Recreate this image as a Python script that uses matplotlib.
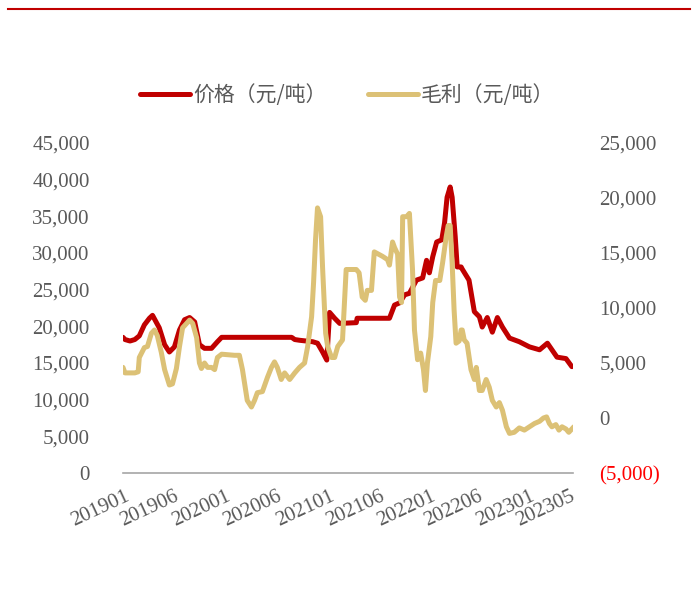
import pandas as pd
import matplotlib
matplotlib.use('Agg')
import matplotlib.pyplot as plt
import matplotlib.dates as mdates
from matplotlib.lines import Line2D
from matplotlib.ticker import FuncFormatter, MultipleLocator

plt.rcParams['font.family'] = ['Liberation Serif', 'Noto Sans CJK SC', 'DejaVu Sans']

# 价格（元/吨），左轴
price_dates = [
    '2019-01-04', '2019-01-11', '2019-01-29', '2019-02-15', '2019-03-03', '2019-03-21',
    '2019-04-08', '2019-04-19', '2019-05-13', '2019-06-01', '2019-06-18', '2019-07-06',
    '2019-07-24', '2019-08-11', '2019-08-29', '2019-09-16', '2019-10-03', '2019-10-21',
    '2019-11-15', '2019-12-06', '2019-12-21', '2020-08-26', '2020-09-06', '2020-09-23',
    '2020-11-09', '2020-11-26', '2020-12-14', '2020-12-29', '2021-01-08', '2021-01-26',
    '2021-02-13', '2021-04-13', '2021-04-16', '2021-08-09', '2021-08-16', '2021-08-27',
    '2021-09-14', '2021-10-02', '2021-10-19', '2021-11-13', '2021-12-05', '2021-12-19',
    '2021-12-29', '2022-01-10', '2022-01-24', '2022-02-11', '2022-02-21', '2022-03-02',
    '2022-03-13', '2022-03-20', '2022-03-31', '2022-04-07', '2022-04-21', '2022-04-25',
    '2022-05-19', '2022-06-07', '2022-06-25', '2022-07-05', '2022-07-23', '2022-08-10',
    '2022-08-28', '2022-09-15', '2022-10-10', '2022-11-14', '2022-12-20', '2023-01-25',
    '2023-02-22', '2023-03-28', '2023-04-29', '2023-05-20',
]
price = [
    18500, 18200, 18000, 18200, 18700, 20200,
    21100, 21500, 19800, 17500, 16500, 17200,
    19500, 20900, 21200, 20600, 17500, 17000,
    17000, 17900, 18500, 18500, 18200, 18100,
    17900, 17700, 16500, 15400, 21900, 21100,
    20400, 20500, 21100, 21100, 21800, 22900,
    23200, 24300, 24500, 26300, 26600, 29000,
    27300, 29500, 31500, 31800, 34100, 37600,
    39000, 37600, 32200, 28100, 28100, 27800,
    26300, 22000, 21300, 19900, 21200, 19200,
    21200, 19900, 18400, 17900, 17200, 16800,
    17700, 15800, 15600, 14500,
]

# 毛利（元/吨），右轴
margin_dates = [
    '2019-01-04', '2019-01-11', '2019-02-15', '2019-02-27', '2019-03-03', '2019-03-21',
    '2019-04-01', '2019-04-15', '2019-04-26', '2019-05-06', '2019-05-20', '2019-06-01',
    '2019-06-18', '2019-06-29', '2019-07-13', '2019-07-24', '2019-08-04', '2019-08-18',
    '2019-08-29', '2019-09-09', '2019-09-23', '2019-10-03', '2019-10-10', '2019-10-21',
    '2019-11-01', '2019-11-15', '2019-11-26', '2019-12-06', '2019-12-21', '2020-02-05',
    '2020-02-22', '2020-03-04', '2020-03-21', '2020-04-05', '2020-04-16', '2020-04-26',
    '2020-05-14', '2020-06-01', '2020-06-15', '2020-06-26', '2020-07-06', '2020-07-20',
    '2020-08-01', '2020-08-19', '2020-09-06', '2020-09-23', '2020-10-11', '2020-10-22',
    '2020-11-05', '2020-11-12', '2020-11-19', '2020-11-26', '2020-12-07', '2020-12-14',
    '2020-12-25', '2021-01-01', '2021-01-15', '2021-01-26', '2021-02-06', '2021-02-23',
    '2021-03-08', '2021-04-13', '2021-04-23', '2021-05-04', '2021-05-15', '2021-05-22',
    '2021-06-06', '2021-06-16', '2021-07-15', '2021-08-02', '2021-08-09', '2021-08-20',
    '2021-08-27', '2021-09-07', '2021-09-14', '2021-09-21', '2021-09-25', '2021-10-09',
    '2021-10-19', '2021-10-30', '2021-11-06', '2021-11-17', '2021-11-28', '2021-12-08',
    '2021-12-15', '2021-12-22', '2022-01-03', '2022-01-10', '2022-01-20', '2022-02-04',
    '2022-02-14', '2022-02-27', '2022-03-06', '2022-03-13', '2022-03-20', '2022-03-27',
    '2022-04-03', '2022-04-14', '2022-04-21', '2022-04-25', '2022-05-02', '2022-05-12',
    '2022-05-26', '2022-06-07', '2022-06-14', '2022-06-25', '2022-07-05', '2022-07-19',
    '2022-07-30', '2022-08-10', '2022-08-24', '2022-09-04', '2022-09-15', '2022-09-29',
    '2022-10-10', '2022-10-27', '2022-11-14', '2022-12-02', '2022-12-20', '2023-01-07',
    '2023-01-25', '2023-02-08', '2023-02-19', '2023-03-01', '2023-03-10', '2023-03-24',
    '2023-04-04', '2023-04-15', '2023-04-29', '2023-05-09', '2023-05-27',
]
margin = [
    4600, 4100, 4100, 4200, 5500, 6400,
    6500, 7700, 8000, 7500, 6000, 4400,
    3000, 3100, 4500, 6500, 8200, 8600,
    8900, 8600, 7300, 5000, 4500, 5000,
    4600, 4600, 4400, 5500, 5800, 5700,
    5700, 4400, 1600, 1000, 1600, 2300,
    2400, 3700, 4600, 5100, 4600, 3500,
    4100, 3500, 4100, 4600, 5000, 6500,
    9200, 12300, 16200, 19100, 18300, 13700,
    7700, 6500, 5500, 5500, 6500, 7100,
    13500, 13500, 13200, 11000, 10700, 11600,
    11600, 15100, 14700, 14400, 13900, 16000,
    15500, 14900, 11000, 10500, 18300, 18300,
    18600, 13500, 8000, 5300, 5900, 4400,
    2500, 5000, 7400, 10500, 12500, 12500,
    14100, 16500, 17500, 17500, 14100, 9800,
    6800, 7000, 8000, 8000, 7100, 6800,
    4400, 3500, 4600, 2500, 2500, 3500,
    2800, 1600, 1000, 1400, 700, -800,
    -1400, -1300, -900, -1100, -800, -500,
    -300, 0, 100, -500, -800, -600,
    -1100, -800, -1000, -1300, -800,
]

tick_dates = ['2019-01-11', '2019-07-02', '2020-01-05', '2020-07-03', '2021-01-08',
              '2021-07-04', '2022-01-03', '2022-06-17', '2022-12-20', '2023-05-13']
tick_labels = ['201901', '201906', '202001', '202006', '202101',
               '202106', '202201', '202206', '202301', '202305']

red = '#C00000'
gold = '#DCC176'
grey = '#595959'

fig = plt.figure(figsize=(6.94, 5.93), dpi=100)
ax = fig.add_axes([123 / 694, 120 / 593, 450 / 694, 330 / 593])
ax2 = ax.twinx()

ax.plot(pd.to_datetime(price_dates), price, color=red, lw=3.6,
        solid_capstyle='round', solid_joinstyle='round', label='价格（元/吨）')
ax2.plot(pd.to_datetime(margin_dates), margin, color=gold, lw=3.6,
         solid_capstyle='round', solid_joinstyle='round', label='毛利（元/吨）')

ax.set_xlim(pd.Timestamp('2019-01-04'), pd.Timestamp('2023-05-24'))
ax.set_ylim(0, 45000)
ax2.set_ylim(-5000, 25000)
ax.yaxis.set_major_locator(MultipleLocator(5000))
ax2.yaxis.set_major_locator(MultipleLocator(5000))
ax.yaxis.set_major_formatter(FuncFormatter(lambda v, p: f'{v:,.0f}'))
ax2.yaxis.set_major_formatter(
    FuncFormatter(lambda v, p: f'({abs(v):,.0f})' if v < 0 else f'{v:,.0f}'))

ax.set_xticks(pd.to_datetime(tick_dates))
ax.set_xticklabels(tick_labels, rotation=25, ha='right', va='top',
                   rotation_mode='anchor')

for a in (ax, ax2):
    for s in a.spines.values():
        s.set_visible(False)
    a.tick_params(length=0, labelsize=15, labelcolor=grey)
ax.spines['bottom'].set_visible(True)
ax.spines['bottom'].set_color('#A6A6A6')
ax.spines['bottom'].set_linewidth(1.2)
ax.tick_params(axis='y', pad=24)
ax.tick_params(axis='x', pad=10)
ax2.tick_params(axis='y', pad=19)
fig.canvas.draw()
for t in ax2.get_yticklabels():
    if t.get_text().startswith('('):
        t.set_color('#FF0000')

h1, l1 = ax.get_legend_handles_labels()
h2, l2 = ax2.get_legend_handles_labels()
leg = fig.legend(h1 + h2, l1 + l2, loc='center', bbox_to_anchor=(0.5, 1 - 95 / 593),
                 ncol=2, frameon=False, handlelength=2.4, handletextpad=0.15,
                 columnspacing=2.0, prop={'family': ['Noto Sans CJK SC'], 'size': 15})
for t in leg.get_texts():
    t.set_color(grey)

fig.add_artist(Line2D([8 / 694, 690 / 694], [1 - 9 / 593] * 2, color=red, lw=1.5))

fig.savefig('out.png', dpi=100)
